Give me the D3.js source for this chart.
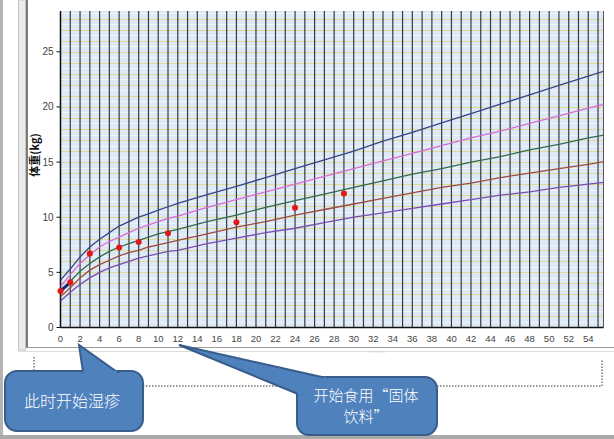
<!DOCTYPE html>
<html><head><meta charset="utf-8">
<script src="https://cdn.jsdelivr.net/npm/d3@7/dist/d3.min.js"></script>
<style>body{margin:0;background:#fff}svg{display:block}</style>
</head><body>
<svg id="c" width="614" height="439"></svg>
<script>
const months = [0,1,2,3,4,5,6,7,8,9,10,11,12,15,18,21,24,27,30,33,36,39,42,45,48,51,54,56];
const sdPlus2  = [4.3,5.3,6.4,7.3,8.0,8.6,9.2,9.6,10.0,10.3,10.65,10.95,11.25,12.05,12.8,13.6,14.4,15.2,16.0,16.9,17.7,18.55,19.4,20.25,21.1,21.95,22.8,23.35];
const sdPlus1  = [3.7,4.8,5.8,6.6,7.3,7.8,8.2,8.6,9.0,9.3,9.6,9.9,10.1,10.9,11.6,12.3,13.0,13.7,14.4,15.1,15.8,16.5,17.2,17.8,18.5,19.2,19.9,20.3];
const median   = [3.2,4.2,5.1,5.8,6.4,6.9,7.3,7.6,7.9,8.2,8.5,8.7,8.9,9.6,10.2,10.9,11.5,12.1,12.7,13.3,13.9,14.4,15.0,15.5,16.1,16.6,17.2,17.5];
const sdMinus1 = [2.8,3.6,4.5,5.2,5.7,6.1,6.5,6.8,7.0,7.3,7.5,7.7,7.9,8.5,9.1,9.6,10.2,10.7,11.2,11.7,12.2,12.7,13.1,13.6,14.0,14.4,14.8,15.1];
const sdMinus2 = [2.4,3.2,3.9,4.5,5.0,5.4,5.7,6.0,6.3,6.5,6.7,6.9,7.0,7.6,8.1,8.6,9.0,9.5,10.0,10.4,10.8,11.2,11.6,12.0,12.3,12.7,13.0,13.2];
const childMonths = [0,1,3,6,8,11,18,24,29];
const childWeight = [3.3,4.1,6.7,7.25,7.75,8.55,9.55,10.85,12.15];
const xTicks = d3.range(0,55,2);
const yTicks = [0,5,10,15,20,25];
const yLabel = "体重(kg)";
const note1 = "此时开始湿疹";
const note2 = ["开始食用“固体","饮料”"];

const svg = d3.select("#c");
const L=60.5, R=603.5, T=11, B=327.5;
const x = d3.scaleLinear().domain([0,55.56]).range([L,R]);
const y = d3.scaleLinear().domain([0,28.7]).range([B,T]);

// outer frame pieces
svg.append("rect").attr("x",0).attr("y",0).attr("width",3).attr("height",439).attr("fill","#b4b4b4");
svg.append("rect").attr("x",0).attr("y",435).attr("width",614).attr("height",4).attr("fill","#aaaaaa");
svg.append("rect").attr("x",18.5).attr("y",0).attr("width",7).attr("height",350).attr("fill","#ececec").attr("stroke","#c4c4c4");
svg.append("line").attr("x1",27).attr("x2",27).attr("y1",0).attr("y2",348).attr("stroke","#222").attr("stroke-width",1.2);
svg.append("line").attr("x1",27).attr("x2",614).attr("y1",347.5).attr("y2",347.5).attr("stroke","#9a9a9a");
svg.append("line").attr("x1",18).attr("x2",614).attr("y1",351.5).attr("y2",351.5).attr("stroke","#dcdcdc");

// plot background
svg.append("rect").attr("x",L).attr("y",T).attr("width",R-L).attr("height",B-T).attr("fill","#dde9f6");
const g = svg.append("g");
g.selectAll("line.hm").data(d3.range(0.5,28.7,1)).join("line")
 .attr("x1",L).attr("x2",R).attr("y1",d=>Math.round(y(d))+0.5).attr("y2",d=>Math.round(y(d))+0.5).attr("stroke","#eef4fb").attr("stroke-width",1);
g.selectAll("line.h").data(d3.range(1,29,1)).join("line")
 .attr("x1",L).attr("x2",R).attr("y1",d=>Math.round(y(d))+0.5).attr("y2",d=>Math.round(y(d))+0.5).attr("stroke","#dedb98").attr("stroke-width",1.2);
g.selectAll("line.v").data(d3.range(0,56,1)).join("line")
 .attr("x1",d=>x(d)).attr("x2",d=>x(d)).attr("y1",T).attr("y2",B).attr("stroke","#3a3a3a").attr("stroke-width",1.2);
svg.append("line").attr("x1",R).attr("x2",R).attr("y1",T).attr("y2",B).attr("stroke","#555").attr("stroke-width",1);

// axes
svg.append("line").attr("x1",L).attr("x2",L).attr("y1",T).attr("y2",B).attr("stroke","#111").attr("stroke-width",1.4);
svg.append("line").attr("x1",L).attr("x2",R).attr("y1",B).attr("y2",B).attr("stroke","#111").attr("stroke-width",1.4);
svg.selectAll("line.yt").data(yTicks).join("line").attr("x1",L-4).attr("x2",L).attr("y1",d=>y(d)).attr("y2",d=>y(d)).attr("stroke","#111");
svg.selectAll("text.yt").data(yTicks).join("text").attr("x",L-7).attr("y",d=>y(d)).attr("dy","0.35em")
 .attr("text-anchor","end").attr("font-family","Liberation Sans, Arial").attr("font-size",10).attr("fill","#444").text(d=>d);
svg.selectAll("text.xt").data(xTicks).join("text").attr("x",d=>x(d)).attr("y",B+14)
 .attr("text-anchor","middle").attr("font-family","Liberation Sans, Arial").attr("font-size",9.5).attr("fill","#444").text(d=>d);
svg.append("text").attr("transform","translate(39,155) rotate(-90)").attr("text-anchor","middle")
 .attr("font-family","Noto Sans CJK SC").attr("font-weight","bold").attr("font-size",11).attr("fill","#111").text(yLabel);

// curves
const series = [[sdPlus2,"#34458e"],[sdPlus1,"#d86ad8"],[median,"#336b4a"],[sdMinus1,"#9c4c3c"],[sdMinus2,"#7a4cb4"]];
const line = d3.line().x(d=>x(d[0])).y(d=>y(d[1]));
svg.append("clipPath").attr("id","pc").append("rect").attr("x",L).attr("y",T).attr("width",R-L).attr("height",B-T);
series.forEach(([vals,col])=>{
  svg.append("path").attr("clip-path","url(#pc)").attr("d",line(months.map((m,i)=>[m,vals[i]])))
   .attr("fill","none").attr("stroke",col).attr("stroke-width",1.3);
});
// child measured
svg.append("path").attr("d",line([[childMonths[0],childWeight[0]],[childMonths[1],childWeight[1]]]))
 .attr("stroke","#1c2670").attr("stroke-width",3).attr("fill","none");
svg.selectAll("circle.pt").data(childMonths).join("circle").attr("cx",d=>x(d)).attr("cy",(d,i)=>y(childWeight[i]))
 .attr("r",3).attr("fill","#e01818");

// dotted frame
svg.append("path").attr("d","M34,357 V386 H602 V359").attr("fill","none").attr("stroke","#333").attr("stroke-dasharray","1.5,1.5").attr("stroke-width",1);
svg.append("line").attr("x1",370).attr("x2",385).attr("y1",352).attr("y2",352).attr("stroke","#ccc").attr("stroke-dasharray","1,1");

// callouts
function callout(bx,by,bw,bh,pts){
  svg.append("rect").attr("x",bx).attr("y",by).attr("width",bw).attr("height",bh).attr("rx",12)
    .attr("fill","#4f81bd").attr("stroke","#385d8a").attr("stroke-width",2);
  svg.append("path").attr("d","M"+pts.map(q=>q.join(",")).join(" L")+"Z").attr("fill","#4f81bd").attr("stroke","#385d8a").attr("stroke-width",2);
  svg.append("path").attr("d","M"+pts[0].join(",")+" L"+pts[2].join(",")).attr("stroke","#4f81bd").attr("stroke-width",3.2);
}
callout(5,371,138,60,[[83,372],[79,345],[117,372]]);
callout(297,377,140,58,[[298,394],[179,345],[326,378]]);
svg.append("text").attr("x",72).attr("y",401).attr("dy","0.36em").attr("text-anchor","middle")
 .attr("font-family","Noto Sans CJK SC").attr("font-weight",300).attr("font-size",16).attr("fill","#fff").text(note1);
svg.selectAll("text.n2").data(note2).join("text").attr("x",366).attr("y",(d,i)=>396+i*21).attr("dy","0.36em").attr("text-anchor","middle")
 .attr("font-family","Noto Sans CJK SC").attr("font-weight",300).attr("font-size",15).attr("fill","#fff").text(d=>d);
</script>
</body></html>
